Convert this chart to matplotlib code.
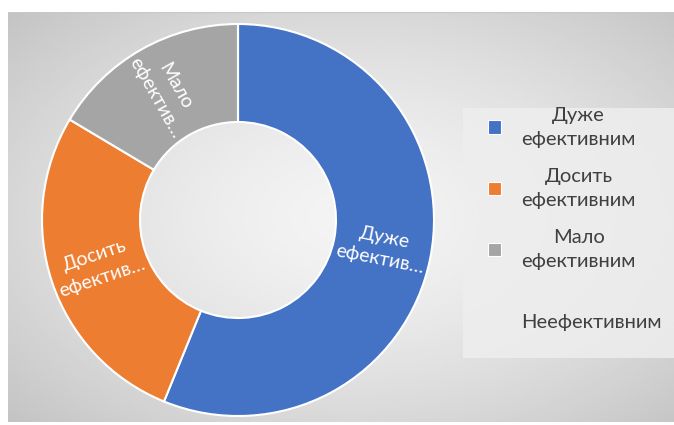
import numpy as np
import matplotlib.pyplot as plt
from matplotlib.patches import Patch, Rectangle

plt.rcParams['font.family'] = ['Lato', 'DejaVu Sans']

# Data
categories = ["Дуже\nефективним", "Досить\nефективним", "Мало\nефективним", "Неефективним"]
values = [41, 20, 12, 0]
slice_labels = ["Дуже\nефектив…", "Досить\nефектив…", "Мало\nефектив…", ""]
colors = ["#4472C4", "#ED7D31", "#A5A5A5", "none"]

fig = plt.figure(figsize=(6.74, 4.25), dpi=100)
W, H = 674, 425

# gradient background of the chart area
bg = fig.add_axes([8 / W, 3 / H, 666 / W, 410 / H])
yy, xx = np.mgrid[0:1:200j, 0:1:300j]
d = np.sqrt(((xx - 0.52) / 0.75) ** 2 + ((yy - 0.5) / 0.75) ** 2)
shade = 0.955 - 0.2 * np.clip(d, 0, 1) ** 1.5
bg.imshow(shade, cmap="gray", vmin=0, vmax=1, aspect="auto", extent=[0, 1, 0, 1], origin="lower")
bg.axhline(1, color="#c8c8c8", lw=1)
bg.axis("off")

# legend background
fig.patches.append(Rectangle((463 / W, 67 / H), 211 / W, 250 / H, transform=fig.transFigure,
                             facecolor="#eeeeee", edgecolor="none", alpha=0.85, zorder=1))

# donut
ax = fig.add_axes([42 / W, 9 / H, 392 / W, 392 / H])
wedges, _ = ax.pie(values, colors=colors, startangle=90, counterclock=False,
                   radius=1, wedgeprops=dict(width=0.5, edgecolor="white", linewidth=1.5))
ax.set_xlim(-1, 1)
ax.set_ylim(-1, 1)
ax.set_aspect("equal")
ax.axis("off")

for w, lab in zip(wedges, slice_labels):
    if not lab:
        continue
    mid = (w.theta1 + w.theta2) / 2
    x = 0.75 * np.cos(np.radians(mid))
    y = 0.75 * np.sin(np.radians(mid))
    rot = mid % 360
    if 90 < rot < 270:
        rot -= 180
    ax.text(x, y, lab, ha="center", va="center", rotation=rot, rotation_mode="anchor",
            color="white", fontsize=14, multialignment="center", linespacing=1.4)

handles = [Patch(facecolor=c, edgecolor="white" if c != "none" else "none", linewidth=0.8)
           for c in colors]
# single-line entry gets an empty first line so every row has the same height
leg_labels = [c if "\n" in c else "\n" + c for c in categories]
leg = fig.legend(handles, leg_labels, loc="center", bbox_to_anchor=(575 / W, 206 / H),
                 frameon=False, fontsize=14.5, labelspacing=1.0, handlelength=0.65,
                 handleheight=0.65, handletextpad=1.0, labelcolor="#404040")
for t in leg.get_texts():
    t.set_multialignment("center")
    t.set_linespacing(1.5)

fig.savefig("out.png", dpi=100)
